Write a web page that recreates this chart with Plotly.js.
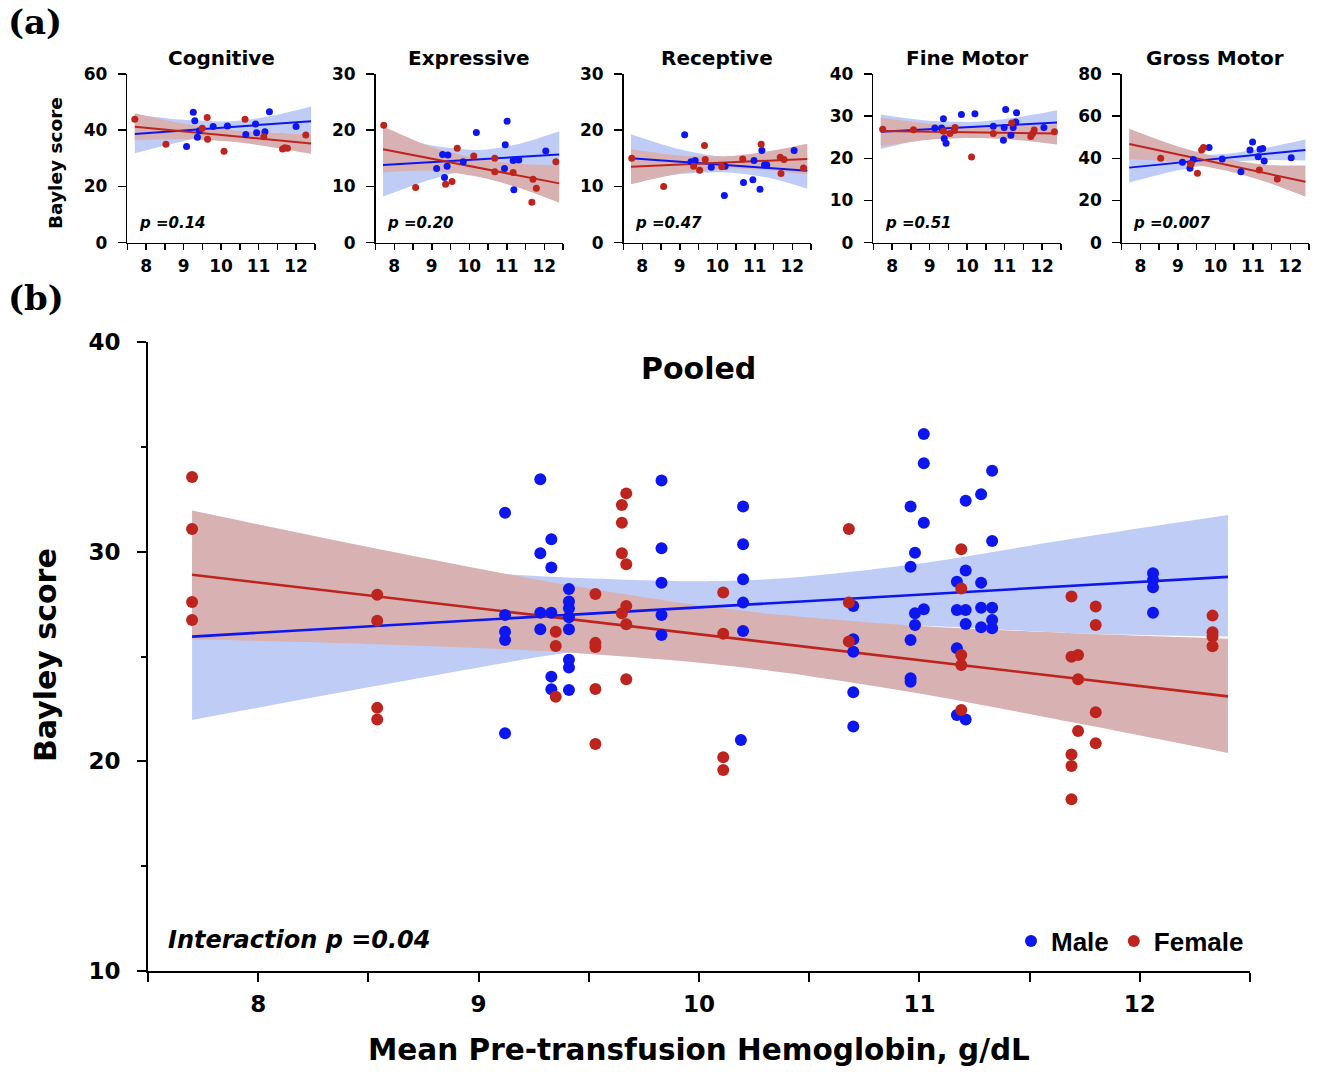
<!DOCTYPE html>
<html>
<head>
<meta charset="utf-8">
<script src="https://cdn.plot.ly/plotly-3.0.1.min.js"></script>
<style>html,body{margin:0;padding:0;background:#fff;}#chart{width:1319px;height:1072px;}</style>
</head>
<body>
<div id="chart"></div>
<script>
// ---------------- DATA ----------------
const fitX = [7.7, 12.4];
const smallBandX = [7.7, 9.0, 10.3, 11.4, 12.4];
const pooledBandX = [7.7, 8.5, 9.3, 10.0, 10.4, 11.0, 11.7, 12.4];

const panelTitles = ["Cognitive", "Expressive", "Receptive", "Fine Motor", "Gross Motor"];
const panelPValues = ["p =0.14", "p =0.20", "p =0.47", "p =0.51", "p =0.007"];
const panelYMax = [60, 30, 30, 40, 80];
const panelYStep = [20, 10, 10, 10, 20];
const xTickVals = [7.5, 8, 8.5, 9, 9.5, 10, 10.5, 11, 11.5, 12, 12.5];
const xTickText = ["", "8", "", "9", "", "10", "", "11", "", "12", ""];
const legendNames = ["Male", "Female"];

// Cognitive
const cognitiveMaleX = [9.08, 9.26, 9.30, 9.37, 9.42, 9.79, 10.17, 10.66, 10.92, 10.95, 11.17, 11.29, 12.00];
const cognitiveMaleY = [34.2, 46.4, 43.4, 37.5, 39.8, 41.3, 41.5, 38.5, 42.2, 39.1, 39.5, 46.6, 41.3];
const cognitiveFemaleX = [7.70, 8.53, 9.50, 9.63, 9.64, 10.08, 10.64, 11.14, 11.64, 11.70, 11.77, 12.26];
const cognitiveFemaleY = [43.9, 35.0, 40.7, 44.5, 36.8, 32.5, 43.9, 37.7, 33.3, 33.8, 33.6, 38.3];
const cognitiveMaleFit = [38.7, 43.2];
const cognitiveMaleLo = [31.8, 36.1, 39.2, 39.2, 38.0];
const cognitiveMaleHi = [45.6, 43.7, 43.2, 45.2, 48.4];
const cognitiveFemaleFit = [41.2, 35.3];
const cognitiveFemaleLo = [36.4, 36.9, 35.9, 33.9, 31.6];
const cognitiveFemaleHi = [46.0, 42.3, 40.0, 39.2, 38.4];

// Expressive
const expressiveMaleX = [9.13, 9.29, 9.34, 9.41, 9.43, 9.84, 10.19, 10.94, 10.96, 11.01, 11.17, 11.19, 11.32, 12.04];
const expressiveMaleY = [13.2, 15.7, 11.6, 13.6, 15.6, 14.4, 19.6, 13.2, 17.4, 21.6, 14.6, 9.4, 14.7, 16.3];
const expressiveFemaleX = [7.72, 8.57, 9.37, 9.54, 9.68, 10.12, 10.68, 10.68, 11.17, 11.67, 11.70, 11.79, 12.31];
const expressiveFemaleY = [20.9, 9.8, 10.4, 10.9, 16.8, 15.4, 15.0, 12.6, 12.5, 7.2, 11.3, 9.7, 14.4];
const expressiveMaleFit = [13.8, 15.7];
const expressiveMaleLo = [8.2, 11.3, 13.3, 12.9, 11.6];
const expressiveMaleHi = [19.4, 17.3, 16.5, 17.7, 19.8];
const expressiveFemaleFit = [16.6, 10.55];
const expressiveFemaleLo = [12.5, 12.8, 11.65, 9.6, 7.1];
const expressiveFemaleHi = [20.7, 17.0, 14.85, 14.0, 13.8];

// Receptive
const receptiveMaleX = [9.13, 9.30, 9.41, 9.84, 10.19, 10.21, 10.70, 10.95, 10.98, 11.14, 11.19, 11.26, 11.32, 12.05];
const receptiveMaleY = [19.2, 14.4, 14.6, 13.4, 8.4, 13.6, 10.7, 11.2, 14.6, 9.5, 16.4, 13.8, 13.8, 16.4];
const receptiveFemaleX = [7.72, 8.57, 9.37, 9.53, 9.66, 9.68, 10.12, 10.68, 11.17, 11.68, 11.70, 11.78, 12.30];
const receptiveFemaleY = [15.0, 10.0, 13.6, 12.9, 17.3, 14.8, 13.5, 14.9, 17.5, 15.2, 12.3, 14.8, 13.3];
const receptiveMaleFit = [15.0, 12.8];
const receptiveMaleLo = [10.7, 12.2, 12.5, 11.5, 9.6];
const receptiveMaleHi = [19.3, 16.6, 15.1, 15.0, 16.0];
const receptiveFemaleFit = [13.5, 14.9];
const receptiveFemaleLo = [10.4, 12.3, 13.2, 12.9, 12.1];
const receptiveFemaleHi = [16.6, 15.5, 15.4, 16.3, 17.6];

// Fine Motor
const fineMaleX = [9.14, 9.32, 9.37, 9.39, 9.44, 9.85, 10.21, 10.70, 10.97, 10.99, 11.03, 11.17, 11.23, 11.30, 11.32, 12.05];
const fineMaleY = [27.2, 27.2, 29.4, 24.7, 23.6, 30.4, 30.6, 27.6, 24.3, 27.3, 31.6, 25.5, 27.3, 28.6, 30.8, 27.3];
const fineFemaleX = [7.75, 8.57, 9.37, 9.54, 9.66, 9.68, 10.12, 10.70, 11.19, 11.70, 11.75, 11.79, 12.33];
const fineFemaleY = [26.9, 26.8, 26.4, 25.9, 26.6, 27.3, 20.3, 25.9, 28.4, 25.2, 25.9, 26.7, 26.3];
const fineMaleFit = [26.3, 28.5];
const fineMaleLo = [22.2, 24.9, 26.3, 26.2, 25.6];
const fineMaleHi = [30.4, 28.9, 28.7, 29.8, 31.4];
const fineFemaleFit = [26.5, 25.9];
const fineFemaleLo = [22.8, 24.4, 24.8, 24.3, 23.3];
const fineFemaleHi = [29.6, 28.2, 27.4, 27.7, 28.1];

// Gross Motor
const grossMaleX = [9.12, 9.32, 9.34, 9.41, 9.83, 10.18, 10.68, 10.92, 10.99, 11.14, 11.19, 11.26, 11.30, 12.02];
const grossMaleY = [38.1, 35.3, 37.6, 39.5, 45.2, 39.7, 33.7, 44.0, 47.8, 40.8, 44.3, 44.7, 38.7, 40.3];
const grossFemaleX = [8.54, 9.35, 9.52, 9.63, 9.68, 11.17, 11.65];
const grossFemaleY = [40.0, 37.3, 32.9, 44.0, 45.1, 34.5, 30.2];
const grossMaleFit = [35.6, 44.0];
const grossMaleLo = [28.5, 34.3, 38.2, 39.2, 39.0];
const grossMaleHi = [42.7, 41.5, 42.2, 45.2, 48.9];
const grossFemaleFit = [46.8, 28.9];
const grossFemaleLo = [39.6, 38.2, 34.1, 28.5, 21.8];
const grossFemaleHi = [54.0, 45.6, 39.7, 36.9, 36.6];

// Pooled
const pooledMaleX = [
  9.12, 9.12, 9.12, 9.12, 9.12,
  9.28, 9.28, 9.28, 9.28,
  9.33, 9.33, 9.33, 9.33, 9.33,
  9.41, 9.41, 9.41, 9.41, 9.41, 9.41, 9.41, 9.41,
  9.83, 9.83, 9.83, 9.83, 9.83,
  10.20, 10.20, 10.20, 10.20, 10.20, 10.19,
  10.70, 10.70, 10.70, 10.70, 10.70,
  10.96, 10.96, 10.96, 10.96, 10.96,
  10.98, 10.98, 10.98,
  11.02, 11.02, 11.02, 11.02,
  11.17, 11.17, 11.17, 11.17,
  11.21, 11.21, 11.21, 11.21, 11.21,
  11.28, 11.28, 11.28, 11.28,
  11.33, 11.33, 11.33, 11.33, 11.33,
  12.06, 12.06, 12.06, 12.06];
const pooledMaleY = [
  31.86, 26.98, 26.18, 25.79, 21.34,
  33.45, 29.92, 27.09, 26.30,
  30.59, 29.24, 27.09, 24.04, 23.44,
  28.22, 27.62, 27.30, 26.87, 26.30, 24.84, 24.47, 23.40,
  33.39, 30.16, 28.52, 26.98, 26.03,
  32.15, 30.35, 28.68, 27.57, 26.22, 21.02,
  27.41, 25.82, 25.23, 23.30, 21.66,
  32.15, 29.28, 25.79, 23.96, 23.80,
  29.95, 27.06, 26.50,
  35.61, 34.22, 31.38, 27.25,
  28.57, 27.22, 25.39, 22.21,
  32.43, 29.10, 27.22, 26.55, 22.00,
  32.74, 28.52, 27.33, 26.39,
  33.86, 30.51, 27.33, 26.74, 26.35,
  28.97, 28.65, 28.30, 27.09];
const pooledFemaleX = [
  7.70, 7.70, 7.70, 7.70,
  8.54, 8.54, 8.54, 8.54,
  9.35, 9.35, 9.35,
  9.53, 9.53, 9.53, 9.53, 9.53,
  9.65, 9.65, 9.65, 9.65,
  9.67, 9.67, 9.67, 9.67, 9.67,
  10.11, 10.11, 10.11, 10.11,
  10.68, 10.68, 10.68,
  11.19, 11.19, 11.19, 11.19, 11.19,
  11.69, 11.69, 11.69, 11.69, 11.69,
  11.72, 11.72, 11.72,
  11.80, 11.80, 11.80, 11.80,
  12.33, 12.33, 12.33, 12.33];
const pooledFemaleY = [
  33.56, 31.08, 27.60, 26.74,
  27.94, 26.70, 22.55, 22.00,
  26.18, 25.50, 23.08,
  27.98, 25.65, 25.45, 23.45, 20.83,
  32.23, 31.38, 29.92, 27.06,
  32.78, 29.40, 27.41, 26.54, 23.92,
  28.05, 26.08, 20.20, 19.59,
  31.08, 27.57, 25.71,
  30.11, 28.24, 25.07, 24.60, 22.45,
  27.86, 24.99, 20.33, 19.78, 18.19,
  25.07, 23.92, 21.45,
  27.39, 26.50, 22.34, 20.86,
  26.95, 26.16, 25.95, 25.49];
const pooledMaleFit = [25.95, 28.8];
const pooledMaleLo = [21.97, 23.53, 25.02, 26.09, 26.44, 26.47, 26.11, 25.95];
const pooledMaleHi = [29.93, 29.33, 28.82, 28.59, 28.74, 29.43, 30.63, 31.75];
const pooledFemaleFit = [28.9, 23.1];
const pooledFemaleLo = [25.82, 25.60, 25.26, 24.70, 24.21, 23.23, 21.85, 20.40];
const pooledFemaleHi = [31.96, 30.22, 28.60, 27.44, 26.95, 26.45, 26.11, 25.85];

// ---------------- STYLE ----------------
const W = 1319, H = 1072;
const FONT = "DejaVu Sans";
const MALE = "rgb(14,22,240)";
const FEMALE = "rgb(190,36,30)";
const MALE_BAND = "rgb(191,204,246)";
const FEMALE_BAND = "rgb(216,177,178)";
const px = v => v / W;
const py = v => 1 - v / H;

const panels = [
  {mx: cognitiveMaleX, my: cognitiveMaleY, fx: cognitiveFemaleX, fy: cognitiveFemaleY,
   mFit: cognitiveMaleFit, mLo: cognitiveMaleLo, mHi: cognitiveMaleHi,
   fFit: cognitiveFemaleFit, fLo: cognitiveFemaleLo, fHi: cognitiveFemaleHi},
  {mx: expressiveMaleX, my: expressiveMaleY, fx: expressiveFemaleX, fy: expressiveFemaleY,
   mFit: expressiveMaleFit, mLo: expressiveMaleLo, mHi: expressiveMaleHi,
   fFit: expressiveFemaleFit, fLo: expressiveFemaleLo, fHi: expressiveFemaleHi},
  {mx: receptiveMaleX, my: receptiveMaleY, fx: receptiveFemaleX, fy: receptiveFemaleY,
   mFit: receptiveMaleFit, mLo: receptiveMaleLo, mHi: receptiveMaleHi,
   fFit: receptiveFemaleFit, fLo: receptiveFemaleLo, fHi: receptiveFemaleHi},
  {mx: fineMaleX, my: fineMaleY, fx: fineFemaleX, fy: fineFemaleY,
   mFit: fineMaleFit, mLo: fineMaleLo, mHi: fineMaleHi,
   fFit: fineFemaleFit, fLo: fineFemaleLo, fHi: fineFemaleHi},
  {mx: grossMaleX, my: grossMaleY, fx: grossFemaleX, fy: grossFemaleY,
   mFit: grossMaleFit, mLo: grossMaleLo, mHi: grossMaleHi,
   fFit: grossFemaleFit, fLo: grossFemaleLo, fHi: grossFemaleHi},
  {mx: pooledMaleX, my: pooledMaleY, fx: pooledFemaleX, fy: pooledFemaleY,
   mFit: pooledMaleFit, mLo: pooledMaleLo, mHi: pooledMaleHi,
   fFit: pooledFemaleFit, fLo: pooledFemaleLo, fHi: pooledFemaleHi}
];

const traces = [];
const layout = {
  width: W, height: H,
  margin: {l: 0, r: 0, t: 0, b: 0},
  paper_bgcolor: "white", plot_bgcolor: "rgba(0,0,0,0)",
  showlegend: true,
  legend: {orientation: "h", x: px(1249), xanchor: "right", y: py(941), yanchor: "middle",
           bgcolor: "rgba(0,0,0,0)", font: {family: "Liberation Sans", size: 26, color: "black"},
           itemsizing: "constant", itemwidth: 30, traceorder: "normal", tracegroupgap: 0},
  annotations: [],
  font: {family: FONT, color: "black"}
};

const panelLeft = [127.3, 375.5, 623.5, 873.3, 1121.7];
const panelWidth = 187.5;

function addPanel(i, p, bandX, isMain) {
  const n = i + 1;
  const xa = n === 1 ? "x" : "x" + n;
  const ya = n === 1 ? "y" : "y" + n;
  const msize = isMain ? 12 : 7;
  const lw = isMain ? 2.6 : 2;
  const common = {xaxis: xa, yaxis: ya, hoverinfo: "skip", showlegend: false};
  // confidence bands
  traces.push(Object.assign({x: bandX, y: p.mLo, mode: "lines", line: {width: 0, shape: "spline", smoothing: 0.8}}, common));
  traces.push(Object.assign({x: bandX, y: p.mHi, mode: "lines", fill: "tonexty", fillcolor: MALE_BAND,
                             line: {width: 0, shape: "spline", smoothing: 0.8}}, common));
  traces.push(Object.assign({x: bandX, y: p.fLo, mode: "lines", line: {width: 0, shape: "spline", smoothing: 0.8}}, common));
  traces.push(Object.assign({x: bandX, y: p.fHi, mode: "lines", fill: "tonexty", fillcolor: FEMALE_BAND,
                             line: {width: 0, shape: "spline", smoothing: 0.8}}, common));
  // fit lines
  traces.push(Object.assign({x: fitX, y: p.mFit, mode: "lines", line: {color: MALE, width: lw}}, common));
  traces.push(Object.assign({x: fitX, y: p.fFit, mode: "lines", line: {color: FEMALE, width: lw}}, common));
  // points
  traces.push(Object.assign({}, common, {x: p.mx, y: p.my, mode: "markers", name: "<b>" + legendNames[0] + "</b>",
    marker: {color: MALE, size: msize}, showlegend: isMain, legendrank: 1}));
  traces.push(Object.assign({}, common, {x: p.fx, y: p.fy, mode: "markers", name: "<b>" + legendNames[1] + "</b>",
    marker: {color: FEMALE, size: msize}, showlegend: isMain, legendrank: 2}));

  const axKeyX = n === 1 ? "xaxis" : "xaxis" + n;
  const axKeyY = n === 1 ? "yaxis" : "yaxis" + n;
  const tickFont = {family: FONT, size: isMain ? 23 : 17, weight: "bold", color: "black"};
  if (isMain) {
    layout[axKeyX] = {domain: [px(148), px(1250)], range: [7.5, 12.5], anchor: ya,
      tickmode: "array", tickvals: xTickVals, ticktext: xTickText, ticks: "outside", ticklen: 9, tickwidth: 2,
      showline: true, linewidth: 2, linecolor: "black", tickcolor: "black", showgrid: false, zeroline: false,
      tickfont: tickFont, fixedrange: true, ticklabelstandoff: 2};
    layout[axKeyY] = {domain: [py(971), py(342)], range: [10, 40], anchor: xa,
      tickmode: "array", tickvals: [10, 20, 30, 40], ticks: "outside", ticklen: 9, tickwidth: 2,
      minor: {tickvals: [15, 25, 35], ticks: "outside", ticklen: 5, tickwidth: 2, tickcolor: "black", showgrid: false},
      showline: true, linewidth: 2, linecolor: "black", tickcolor: "black", showgrid: false, zeroline: false,
      tickfont: tickFont, fixedrange: true, ticklabelstandoff: 12};
  } else {
    const ymax = panelYMax[i];
    const yt = [];
    for (let v = 0; v <= ymax; v += panelYStep[i]) yt.push(v);
    layout[axKeyX] = {domain: [px(panelLeft[i]), px(panelLeft[i] + panelWidth)], range: [7.5, 12.5], anchor: ya,
      tickmode: "array", tickvals: xTickVals, ticktext: xTickText, ticks: "outside", ticklen: 6, tickwidth: 1.5,
      showline: true, linewidth: 1.5, linecolor: "black", tickcolor: "black", showgrid: false, zeroline: false,
      tickfont: tickFont, fixedrange: true, ticklabelstandoff: 1};
    layout[axKeyY] = {domain: [py(242.7), py(74)], range: [0, ymax], anchor: xa,
      tickmode: "array", tickvals: yt, ticks: "outside", ticklen: 8, tickwidth: 1.5,
      showline: true, linewidth: 1.5, linecolor: "black", tickcolor: "black", showgrid: false, zeroline: false,
      tickfont: tickFont, fixedrange: true, ticklabelstandoff: 7};
    layout.annotations.push({text: "<b>" + panelTitles[i] + "</b>", xref: xa + " domain", yref: "paper",
      x: 0.5, y: py(58), xanchor: "center", yanchor: "middle", showarrow: false,
      font: {family: FONT, size: 20, weight: "bold", color: "black"}});
    layout.annotations.push({text: "<b><i>" + panelPValues[i] + "</i></b>", xref: xa + " domain", yref: "paper",
      x: 0.05, y: py(223), xanchor: "left", yanchor: "middle", showarrow: false,
      font: {family: FONT, size: 15, weight: "bold", style: "italic", color: "black"}});
  }
}

for (let i = 0; i < 5; i++) addPanel(i, panels[i], smallBandX, false);
addPanel(5, panels[5], pooledBandX, true);

// Texts
layout.annotations.push(
  {text: "<b>(a)</b>", xref: "paper", yref: "paper", x: px(6), y: py(22), xanchor: "left", yanchor: "middle",
   showarrow: false, font: {family: "DejaVu Serif", size: 34, weight: "bold", color: "black"}},
  {text: "<b>(b)</b>", xref: "paper", yref: "paper", x: px(6), y: py(298), xanchor: "left", yanchor: "middle",
   showarrow: false, font: {family: "DejaVu Serif", size: 34, weight: "bold", color: "black"}},
  {text: "<b>Bayley score</b>", xref: "paper", yref: "paper", x: px(55), y: py(163), xanchor: "center", yanchor: "middle",
   textangle: -90, showarrow: false, font: {family: FONT, size: 18.5, weight: "bold", color: "black"}},
  {text: "<b>Pooled</b>", xref: "x6 domain", yref: "paper", x: 0.5, y: py(368), xanchor: "center", yanchor: "middle",
   showarrow: false, font: {family: FONT, size: 30, weight: "bold", color: "black"}},
  {text: "<b>Mean Pre-transfusion Hemoglobin, g/dL</b>", xref: "x6 domain", yref: "paper", x: 0.5, y: py(1050),
   xanchor: "center", yanchor: "middle", showarrow: false, font: {family: FONT, size: 29.5, weight: "bold", color: "black"}},
  {text: "<b>Bayley score</b>", xref: "paper", yref: "paper", x: px(45), y: py(655), xanchor: "center", yanchor: "middle",
   textangle: -90, showarrow: false, font: {family: FONT, size: 30, weight: "bold", color: "black"}},
  {text: "<b><i>Interaction p =0.04</i></b>", xref: "paper", yref: "paper", x: px(166), y: py(940), xanchor: "left",
   yanchor: "middle", showarrow: false, font: {family: FONT, size: 24, weight: "bold", style: "italic", color: "black"}}
);

Plotly.newPlot("chart", traces, layout, {displayModeBar: false, staticPlot: true});
</script>
</body>
</html>
